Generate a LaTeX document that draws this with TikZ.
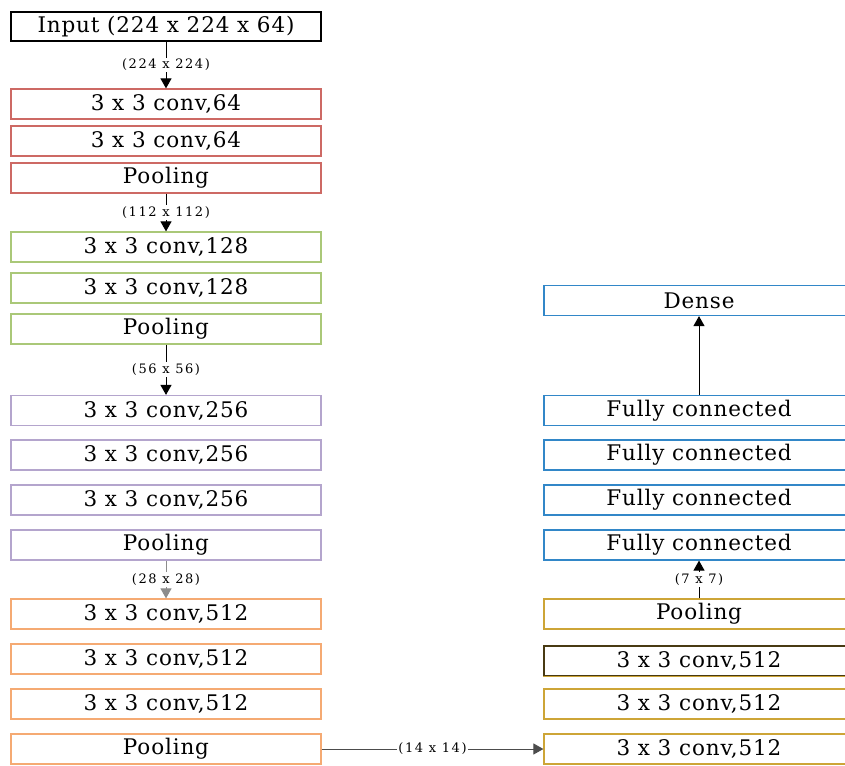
\documentclass[tikz,border=0pt]{standalone}
\usepackage{fontspec}
\setmainfont{DejaVu Serif}
\newfontfamily\boxfont[LetterSpace=4]{DejaVu Serif}
\newfontfamily\dimfont[LetterSpace=12]{DejaVu Serif}
\usetikzlibrary{arrows.meta}
\definecolor{blkred}{RGB}{205,105,100}
\definecolor{blkgreen}{RGB}{170,200,120}
\definecolor{blkpurple}{RGB}{180,165,205}
\definecolor{blkorange}{RGB}{245,170,115}
\definecolor{blkblue}{RGB}{50,135,200}
\definecolor{blkgold}{RGB}{205,165,55}
\tikzset{
  layer/.style={draw, line width=1.2pt, fill=white, minimum width=310pt,
    minimum height=30pt, inner sep=0pt, font=\boxfont\fontsize{21.5}{23}\selectfont},
  dimlabel/.style={fill=white, inner sep=1.5pt, font=\dimfont\fontsize{13}{14}\selectfont},
  flow/.style={line width=1pt, -{Triangle[length=10pt,width=11pt]}},
}
\begin{document}
\begin{tikzpicture}[x=1pt,y=-1pt]
\useasboundingbox (0,0) rectangle (845,765);
\clip (0,0) rectangle (845,765);
% left column
\node[layer, draw=black, minimum height=29pt] (inp) at (166,26.5) {Input (224 x 224 x 64)};
\node[layer, draw=blkred] (c1a) at (166,104) {3 x 3 conv,64};
\node[layer, draw=blkred] (c1b) at (166,141) {3 x 3 conv,64};
\node[layer, draw=blkred] (p1) at (166,178) {Pooling};
\node[layer, draw=blkgreen] (c2a) at (166,247) {3 x 3 conv,128};
\node[layer, draw=blkgreen] (c2b) at (166,288) {3 x 3 conv,128};
\node[layer, draw=blkgreen] (p2) at (166,329) {Pooling};
\node[layer, draw=blkpurple] (c3a) at (166,410.5) {3 x 3 conv,256};
\node[layer, draw=blkpurple] (c3b) at (166,455) {3 x 3 conv,256};
\node[layer, draw=blkpurple] (c3c) at (166,500) {3 x 3 conv,256};
\node[layer, draw=blkpurple] (p3) at (166,545) {Pooling};
\node[layer, draw=blkorange] (c4a) at (166,614) {3 x 3 conv,512};
\node[layer, draw=blkorange] (c4b) at (166,659) {3 x 3 conv,512};
\node[layer, draw=blkorange] (c4c) at (166,704) {3 x 3 conv,512};
\node[layer, draw=blkorange] (p4) at (166,749) {Pooling};
% right column
\node[layer, draw=blkgold] (c5a) at (699,749) {3 x 3 conv,512};
\node[layer, draw=blkgold] (c5b) at (699,704) {3 x 3 conv,512};
\node[layer, draw=black!65!blkgold] (c5c) at (699,661) {3 x 3 conv,512};
\draw[blkgold, line width=1.2pt] (c5c.south west) -- (c5c.south east);
\node[layer, draw=blkgold] (p5) at (699,614) {Pooling};
\node[layer, draw=blkblue] (fc1) at (699,545) {Fully connected};
\node[layer, draw=blkblue] (fc2) at (699,500) {Fully connected};
\node[layer, draw=blkblue] (fc3) at (699,455) {Fully connected};
\node[layer, draw=blkblue] (fc4) at (699,410.5) {Fully connected};
\node[layer, draw=blkblue] (dense) at (699,300.5) {Dense};
% connectors
\draw[flow] (inp) -- node[dimlabel] {(224 x 224)} (c1a);
\draw[flow] (p1) -- node[dimlabel] {(112 x 112)} (c2a);
\draw[flow] (p2) -- node[dimlabel] {(56 x 56)} (c3a);
\draw[flow, draw=black!45] (p3) -- node[dimlabel] {(28 x 28)} (c4a);
\draw[flow, draw=black!70] (p4) -- node[dimlabel] {(14 x 14)} (c5a);
\draw[flow] (p5) -- node[dimlabel] {(7 x 7)} (fc1);
\draw[flow] (fc4) -- (dense);
\end{tikzpicture}
\end{document}
